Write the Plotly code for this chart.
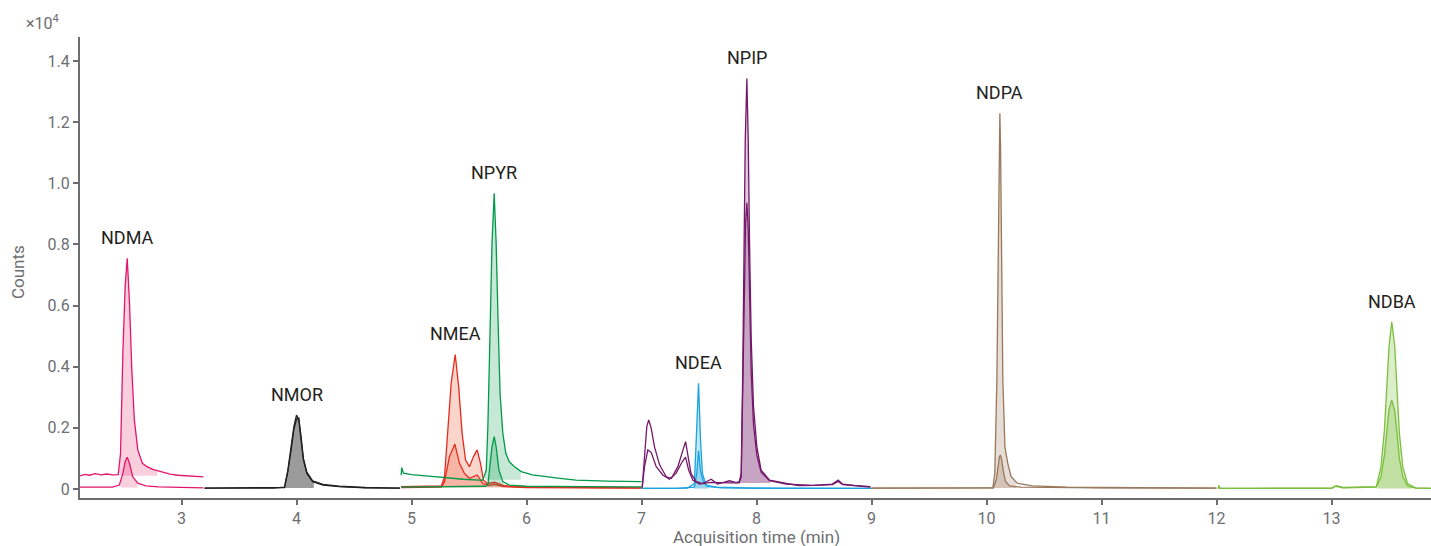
import numpy as np
import plotly.graph_objects as go

# ---------------- data (counts in units of 10^4) ----------------
NDMA_T_HI = [2.117, 2.16, 2.2, 2.25, 2.3, 2.35, 2.4, 2.45, 2.47, 2.49, 2.51, 2.528, 2.548, 2.568, 2.59, 2.62, 2.66, 2.70, 2.75, 2.81, 2.90, 2.97, 3.05, 3.12, 3.19]
NDMA_V_HI = [0.043, 0.048, 0.045, 0.050, 0.046, 0.049, 0.046, 0.047, 0.117, 0.444, 0.662, 0.755, 0.607, 0.389, 0.226, 0.128, 0.084, 0.073, 0.064, 0.057, 0.049, 0.045, 0.043, 0.041, 0.040]
NDMA_T_LO = [2.117, 2.2, 2.3, 2.4, 2.46, 2.49, 2.51, 2.528, 2.548, 2.576, 2.62, 2.69, 2.8, 3.0, 3.19]
NDMA_V_LO = [0.006, 0.006, 0.005, 0.006, 0.013, 0.051, 0.089, 0.104, 0.084, 0.040, 0.019, 0.010, 0.007, 0.005, 0.004]

NMOR_T = [3.2, 3.4, 3.6, 3.8, 3.896, 3.925, 3.954, 3.977, 4.0, 4.02, 4.04, 4.06, 4.09, 4.14, 4.23, 4.37, 4.6, 4.9]
NMOR_V_HI = [0.003, 0.004, 0.003, 0.004, 0.005, 0.062, 0.138, 0.204, 0.242, 0.226, 0.160, 0.095, 0.051, 0.024, 0.013, 0.0075, 0.004, 0.003]
NMOR_V_LO = [0.003, 0.003, 0.004, 0.003, 0.006, 0.058, 0.130, 0.195, 0.228, 0.232, 0.170, 0.100, 0.055, 0.027, 0.015, 0.009, 0.005, 0.003]

NMEA_T_HI = [4.91, 5.0, 5.1, 5.2, 5.26, 5.287, 5.316, 5.345, 5.38, 5.41, 5.44, 5.47, 5.504, 5.539, 5.571, 5.6, 5.626, 5.66, 5.72, 5.8, 5.88, 6.2, 6.6, 7.0]
NMEA_V_HI = [0.008, 0.009, 0.008, 0.009, 0.010, 0.040, 0.182, 0.346, 0.440, 0.335, 0.182, 0.095, 0.073, 0.106, 0.128, 0.084, 0.029, 0.018, 0.022, 0.012, 0.008, 0.006, 0.005, 0.004]
NMEA_T_LO = [4.91, 5.1, 5.26, 5.287, 5.33, 5.377, 5.417, 5.46, 5.504, 5.571, 5.62, 5.68, 5.72, 5.8, 6.0, 6.5, 7.0]
NMEA_V_LO = [0.005, 0.005, 0.006, 0.024, 0.106, 0.147, 0.084, 0.051, 0.035, 0.046, 0.018, 0.012, 0.016, 0.008, 0.005, 0.004, 0.003]

NPYR_T_HI = [4.91, 4.915, 4.93, 5.0, 5.15, 5.3, 5.45, 5.59, 5.62, 5.65, 5.664, 5.684, 5.70, 5.719, 5.736, 5.754, 5.77, 5.794, 5.82, 5.85, 5.896, 5.954, 6.05, 6.29, 6.43, 6.7, 7.0]
NPYR_V_HI = [0.045, 0.070, 0.052, 0.047, 0.042, 0.036, 0.032, 0.029, 0.029, 0.062, 0.204, 0.531, 0.804, 0.967, 0.804, 0.531, 0.313, 0.182, 0.117, 0.089, 0.073, 0.057, 0.046, 0.035, 0.029, 0.026, 0.024]
NPYR_T_LO = [4.91, 5.2, 5.5, 5.64, 5.664, 5.684, 5.70, 5.719, 5.736, 5.76, 5.794, 5.85, 6.0, 6.5, 7.0]
NPYR_V_LO = [0.006, 0.007, 0.008, 0.009, 0.013, 0.073, 0.138, 0.171, 0.138, 0.062, 0.024, 0.013, 0.009, 0.008, 0.007]

NDEA_T_HI = [7.0, 7.2, 7.4, 7.46, 7.476, 7.496, 7.513, 7.53, 7.56, 7.65, 8.0, 8.5, 9.0]
NDEA_V_HI = [0.002, 0.002, 0.003, 0.018, 0.160, 0.346, 0.160, 0.051, 0.013, 0.006, 0.003, 0.002, 0.002]
NDEA_T_LO = [7.0, 7.3, 7.46, 7.48, 7.496, 7.513, 7.54, 7.58, 7.7, 8.2, 9.0]
NDEA_V_LO = [0.002, 0.002, 0.006, 0.050, 0.125, 0.060, 0.020, 0.008, 0.004, 0.002, 0.002]

NPIP_T_HI = [7.006, 7.026, 7.046, 7.063, 7.084, 7.113, 7.157, 7.215, 7.26, 7.316, 7.36, 7.383, 7.403, 7.43, 7.476, 7.533, 7.606, 7.66, 7.765, 7.823, 7.85, 7.867, 7.88, 7.893, 7.902, 7.916, 7.928, 7.939, 7.954, 7.974, 8.003, 8.04, 8.113, 8.26, 8.37, 8.5, 8.66, 8.71, 8.75, 8.85, 8.99]
NPIP_V_HI = [0.005, 0.106, 0.204, 0.226, 0.199, 0.138, 0.079, 0.040, 0.035, 0.073, 0.128, 0.155, 0.111, 0.051, 0.024, 0.018, 0.032, 0.016, 0.027, 0.021, 0.024, 0.051, 0.378, 0.815, 1.142, 1.343, 1.142, 0.815, 0.487, 0.269, 0.138, 0.062, 0.029, 0.018, 0.011, 0.012, 0.016, 0.029, 0.016, 0.012, 0.008]
NPIP_T_LO = [7.006, 7.026, 7.055, 7.084, 7.128, 7.185, 7.243, 7.30, 7.354, 7.383, 7.41, 7.446, 7.504, 7.606, 7.765, 7.85, 7.867, 7.88, 7.893, 7.905, 7.916, 7.928, 7.939, 7.954, 7.974, 8.003, 8.04, 8.113, 8.26, 8.5, 8.66, 8.71, 8.75, 8.99]
NPIP_V_LO = [0.005, 0.073, 0.128, 0.120, 0.073, 0.046, 0.032, 0.051, 0.089, 0.104, 0.062, 0.029, 0.016, 0.022, 0.020, 0.020, 0.040, 0.280, 0.600, 0.870, 0.936, 0.850, 0.620, 0.380, 0.210, 0.110, 0.055, 0.027, 0.016, 0.012, 0.014, 0.025, 0.014, 0.006]

NDPA_T_HI = [9.0, 9.3, 9.6, 9.9, 10.055, 10.072, 10.09, 10.10, 10.11, 10.116, 10.122, 10.13, 10.142, 10.16, 10.185, 10.214, 10.27, 10.40, 10.7, 11.0, 11.4, 11.8, 12.0]
NDPA_V_HI = [0.003, 0.004, 0.003, 0.004, 0.004, 0.051, 0.357, 0.793, 1.120, 1.229, 1.120, 0.793, 0.357, 0.138, 0.084, 0.040, 0.018, 0.010, 0.006, 0.005, 0.004, 0.004, 0.003]
NDPA_T_LO = [9.0, 9.5, 10.0, 10.06, 10.085, 10.10, 10.112, 10.12, 10.13, 10.145, 10.165, 10.2, 10.3, 11.0, 12.0]
NDPA_V_LO = [0.003, 0.003, 0.003, 0.004, 0.030, 0.075, 0.104, 0.111, 0.100, 0.060, 0.025, 0.010, 0.006, 0.004, 0.003]

NDBA_T_HI = [12.016, 12.02, 12.03, 12.3, 12.7, 13.0, 13.04, 13.1, 13.39, 13.43, 13.46, 13.48, 13.50, 13.524, 13.55, 13.57, 13.59, 13.62, 13.66, 13.73, 13.865]
NDBA_V_HI = [0.002, 0.012, 0.003, 0.002, 0.003, 0.003, 0.011, 0.005, 0.008, 0.073, 0.193, 0.335, 0.466, 0.547, 0.466, 0.324, 0.182, 0.073, 0.018, 0.004, 0.002]
NDBA_T_LO = [12.016, 12.5, 13.0, 13.04, 13.1, 13.39, 13.43, 13.46, 13.48, 13.50, 13.524, 13.55, 13.57, 13.59, 13.62, 13.66, 13.73, 13.865]
NDBA_V_LO = [0.002, 0.002, 0.002, 0.009, 0.004, 0.006, 0.040, 0.110, 0.190, 0.260, 0.291, 0.255, 0.180, 0.100, 0.040, 0.010, 0.003, 0.002]

# integration windows (start, end, baseline) for the two traces of each compound
WIN = {
    "NDMA": [(2.46, 2.79, 0.043), (2.47, 2.62, 0.005)],
    "NMOR": [(3.89, 4.15, 0.003), (3.89, 4.15, 0.003)],
    "NMEA": [(5.26, 5.85, 0.006), (5.26, 5.85, 0.005)],
    "NPYR": [(5.64, 5.95, 0.030), (5.66, 5.80, 0.008)],
    "NDEA": [(7.45, 7.58, 0.002), (7.45, 7.58, 0.002)],
    "NPIP": [(7.86, 8.12, 0.020), (7.86, 8.12, 0.020)],
    "NDPA": [(10.05, 10.26, 0.003), (10.05, 10.26, 0.003)],
    "NDBA": [(13.40, 13.70, 0.002), (13.40, 13.70, 0.002)],
}

COMPOUNDS = [
    ("NDMA", "#E3156E", "rgba(228,30,100,0.22)", (NDMA_T_HI, NDMA_V_HI), (NDMA_T_LO, NDMA_V_LO)),
    ("NMOR", "#231F20", "rgba(60,60,60,0.30)", (NMOR_T, NMOR_V_HI), (NMOR_T, NMOR_V_LO)),
    ("NMEA", "#E62A1E", "rgba(235,80,40,0.24)", (NMEA_T_HI, NMEA_V_HI), (NMEA_T_LO, NMEA_V_LO)),
    ("NPYR", "#009A48", "rgba(0,150,70,0.22)", (NPYR_T_HI, NPYR_V_HI), (NPYR_T_LO, NPYR_V_LO)),
    ("NDEA", "#1BA3E0", "rgba(27,163,224,0.26)", (NDEA_T_HI, NDEA_V_HI), (NDEA_T_LO, NDEA_V_LO)),
    ("NPIP", "#74196A", "rgba(116,25,106,0.22)", (NPIP_T_HI, NPIP_V_HI), (NPIP_T_LO, NPIP_V_LO)),
    ("NDPA", "#9A785C", "rgba(160,125,95,0.26)", (NDPA_T_HI, NDPA_V_HI), (NDPA_T_LO, NDPA_V_LO)),
    ("NDBA", "#7CBF3E", "rgba(125,190,65,0.28)", (NDBA_T_HI, NDBA_V_HI), (NDBA_T_LO, NDBA_V_LO)),
]

Y_TICKS = [0, 0.2, 0.4, 0.6, 0.8, 1.0, 1.2, 1.4]
Y_TICKTEXT = ["0", "0.2", "0.4", "0.6", "0.8", "1.0", "1.2", "1.4"]
X_TICKS = [3, 4, 5, 6, 7, 8, 9, 10, 11, 12, 13]

GRAY = "#6D6E71"
DARK = "#231F20"
FONT = "Roboto"

fig = go.Figure()

def fill_polygon(t, v, t0, t1, base):
    t = np.asarray(t, float)
    v = np.asarray(v, float)
    inside = (t > t0) & (t < t1)
    xs = [t0] + list(t[inside]) + [t1]
    ys = [np.interp(t0, t, v)] + list(v[inside]) + [np.interp(t1, t, v)]
    return xs + [t1, t0], ys + [base, base]

for name, col, fcol, hi, lo in COMPOUNDS:
    for (t, v), (t0, t1, base) in zip((hi, lo), WIN[name]):
        px, py = fill_polygon(t, v, t0, t1, base)
        fig.add_trace(go.Scatter(x=px, y=py, fill="toself", fillcolor=fcol,
                                 mode="none", hoverinfo="skip", showlegend=False))
    for t, v in (hi, lo):
        fig.add_trace(go.Scatter(x=t, y=v, mode="lines",
                                 line=dict(color=col, width=1.3),
                                 name=name, showlegend=False))
    ti = int(np.argmax(hi[1]))
    fig.add_annotation(x=hi[0][ti], y=hi[1][ti], text=name, showarrow=False,
                       yanchor="bottom", yshift=8,
                       font=dict(family=FONT, size=18, color=DARK))

# multiplier and axis titles
fig.add_annotation(xref="paper", yref="paper", x=-0.0274, y=1.0325, xanchor="center", yanchor="middle",
                   text="×10<sup>4</sup>", showarrow=False,
                   font=dict(family=FONT, size=16, color=GRAY))
fig.add_annotation(xref="paper", yref="paper", x=-0.0459, y=0.49, xanchor="center", yanchor="middle",
                   text="Counts", textangle=-90, showarrow=False,
                   font=dict(family=FONT, size=17, color=GRAY))
fig.add_annotation(xref="paper", yref="paper", x=0.501, y=-0.0846, xanchor="center", yanchor="middle",
                   text="Acquisition time (min)", showarrow=False,
                   font=dict(family=FONT, size=17, color=GRAY))

fig.update_layout(
    width=1431, height=546,
    margin=dict(l=80, r=0, t=37, b=48),
    plot_bgcolor="white", paper_bgcolor="white",
    font=dict(family=FONT, color=GRAY, size=16),
    xaxis=dict(range=[2.1174, 13.865], tickvals=X_TICKS, ticks="outside", ticklen=5,
               tickwidth=2, tickcolor=GRAY, showline=True, linecolor=GRAY, linewidth=2,
               showgrid=False, zeroline=False, automargin=False,
               tickfont=dict(family=FONT, size=16, color=GRAY)),
    yaxis=dict(range=[-0.0294, 1.4785], tickvals=Y_TICKS, ticktext=Y_TICKTEXT,
               ticks="outside", ticklen=5, tickwidth=2, tickcolor=GRAY,
               showline=True, linecolor=GRAY, linewidth=2, showgrid=False, zeroline=False,
               automargin=False,
               tickfont=dict(family=FONT, size=16, color=GRAY)),
)

fig.write_html("out.html", config={"displayModeBar": False},
               post_script="document.body.style.margin='0px';document.body.style.padding='0px';document.body.style.overflow='hidden';")
